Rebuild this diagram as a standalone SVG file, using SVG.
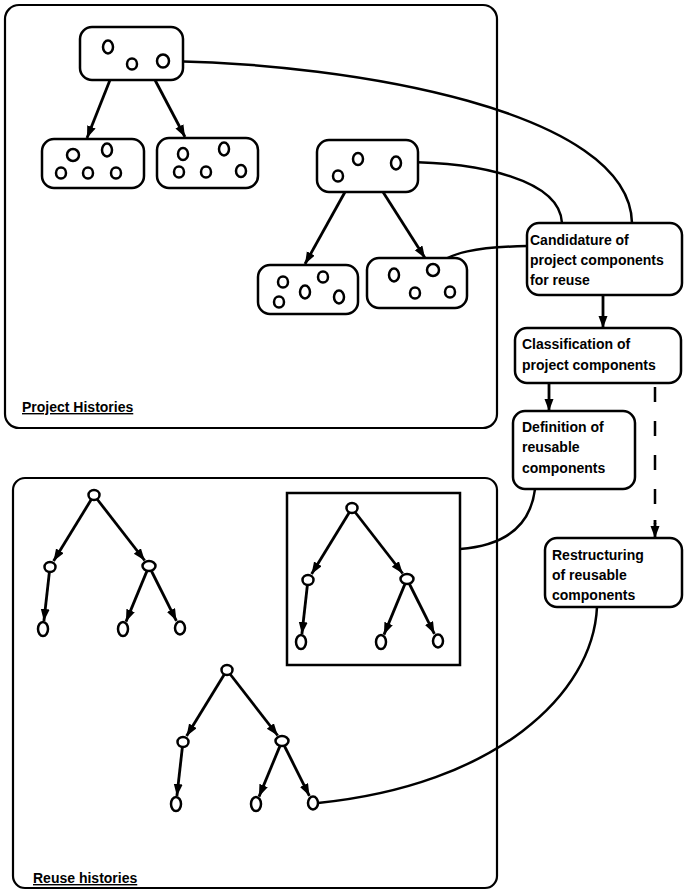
<svg xmlns="http://www.w3.org/2000/svg" xmlns:xlink="http://www.w3.org/1999/xlink" width="684" height="892" viewBox="0 0 684 892">
<style>
.frame{fill:none;stroke:#000;stroke-width:2.2}
.box{fill:#fff;stroke:#000;stroke-width:2.5}
.pt{fill:#fff;stroke:#000;stroke-width:2.5}
.edge{fill:none;stroke:#000;stroke-width:2.8;marker-end:url(#ah)}
.conn{fill:none;stroke:#000;stroke-width:2.5}
.dash{fill:none;stroke:#000;stroke-width:2.5;stroke-dasharray:15 19;}
.lbl{font-family:"Liberation Sans",Arial,sans-serif;font-weight:bold;font-size:14px;fill:#000}
.ttl{font-family:"Liberation Sans",Arial,sans-serif;font-weight:bold;font-size:14px;fill:#000;text-decoration:underline}
</style>
<defs>
<marker id="ah" markerUnits="userSpaceOnUse" markerWidth="14" markerHeight="10" refX="12" refY="4.5" orient="auto">
<path d="M0,0 L12,4.5 L0,9 z" fill="#000"/>
</marker>
<g id="tree">
<line class="edge" x1="-2.6" y1="4.3" x2="-40.4" y2="66"/>
<line class="edge" x1="3" y1="4" x2="50.7" y2="65.5"/>
<line class="edge" x1="-44.6" y1="77" x2="-50.1" y2="126"/>
<line class="edge" x1="53.1" y1="75.6" x2="32" y2="126.6"/>
<line class="edge" x1="57.2" y1="75.5" x2="82.4" y2="125.8"/>
<ellipse class="pt" cx="0" cy="0" rx="5.5" ry="5"/>
<ellipse class="pt" cx="-44" cy="72" rx="5.5" ry="5"/>
<ellipse class="pt" cx="55" cy="71" rx="6.5" ry="5"/>
<ellipse class="pt" cx="-51" cy="134" rx="5" ry="7"/>
<ellipse class="pt" cx="29" cy="134" rx="5" ry="7"/>
<ellipse class="pt" cx="86" cy="133" rx="5" ry="6.5"/>
</g>
</defs>
<rect width="684" height="892" fill="#fff"/>

<g id="project-histories">
<rect class="frame" x="5" y="5" width="492" height="423" rx="14"/>
<text class="ttl" x="22" y="412">Project Histories</text>
</g>
<g id="reuse-histories">
<rect class="frame" x="13" y="478" width="484" height="410" rx="12"/>
<text class="ttl" x="33" y="883">Reuse histories</text>
</g>

<g id="connectors">
<path class="conn" d="M169,61 C350,64 630,110 632,223"/>
<path class="conn" d="M402,162 C480,162 560,180 562,223"/>
<path class="conn" d="M437,268 C445,252 480,247 527,246"/>
<path class="conn" d="M535,489 C530,530 500,546 460,549"/>
<path class="conn" d="M597,607 C593,695 495,785 318,803"/>
<line class="edge" x1="110" y1="80" x2="87" y2="138"/>
<line class="edge" x1="155" y1="80" x2="185" y2="137"/>
<line class="edge" x1="345" y1="192" x2="305" y2="264"/>
<line class="edge" x1="383" y1="192" x2="425" y2="258"/>
<line class="edge" x1="603" y1="295" x2="603" y2="328"/>
<line class="edge" x1="549" y1="383" x2="549" y2="411"/>
<line class="dash" x1="655" y1="387" x2="655" y2="524"/>
<line class="edge" x1="655" y1="520" x2="655" y2="538"/>
</g>

<g id="node-top">
<rect class="box" x="80" y="27" width="103" height="53" rx="12"/>
<ellipse class="pt" cx="108" cy="47" rx="5" ry="6.5"/>
<ellipse class="pt" cx="132" cy="64" rx="5" ry="5.5"/>
<ellipse class="pt" cx="163" cy="61" rx="6" ry="6.5"/>
</g>
<g id="node-left">
<rect class="box" x="42" y="139" width="102" height="49" rx="12"/>
<ellipse class="pt" cx="73" cy="155" rx="6" ry="6"/>
<ellipse class="pt" cx="107" cy="150" rx="5" ry="6.5"/>
<ellipse class="pt" cx="61" cy="173" rx="5" ry="5.5"/>
<ellipse class="pt" cx="88" cy="173" rx="5" ry="5.5"/>
<ellipse class="pt" cx="116" cy="173" rx="5" ry="5.5"/>
</g>
<g id="node-mid">
<rect class="box" x="157" y="138" width="101" height="50" rx="12"/>
<ellipse class="pt" cx="183" cy="154" rx="5" ry="6"/>
<ellipse class="pt" cx="224" cy="149" rx="5" ry="6.5"/>
<ellipse class="pt" cx="179" cy="172" rx="5" ry="5.5"/>
<ellipse class="pt" cx="206" cy="172" rx="5" ry="5.5"/>
<ellipse class="pt" cx="241" cy="171" rx="5" ry="6"/>
</g>
<g id="node-second">
<rect class="box" x="317" y="140" width="101" height="52" rx="12"/>
<ellipse class="pt" cx="358" cy="159" rx="5" ry="6"/>
<ellipse class="pt" cx="396" cy="163" rx="5" ry="6.5"/>
<ellipse class="pt" cx="338" cy="176" rx="5" ry="5.5"/>
</g>
<g id="node-second-left">
<rect class="box" x="258" y="265" width="100" height="49" rx="12"/>
<ellipse class="pt" cx="283" cy="282" rx="5" ry="5.5"/>
<ellipse class="pt" cx="305" cy="292" rx="5" ry="6.5"/>
<ellipse class="pt" cx="323" cy="277" rx="5" ry="5.5"/>
<ellipse class="pt" cx="279" cy="302" rx="5" ry="5.5"/>
<ellipse class="pt" cx="339" cy="297" rx="5" ry="6.5"/>
</g>
<g id="node-second-right">
<rect class="box" x="367" y="258" width="100" height="50" rx="12"/>
<ellipse class="pt" cx="394" cy="275" rx="5" ry="6.5"/>
<ellipse class="pt" cx="433" cy="270" rx="6" ry="6"/>
<ellipse class="pt" cx="415" cy="293" rx="5" ry="5.5"/>
<ellipse class="pt" cx="450" cy="292" rx="5" ry="5.5"/>
</g>

<g id="node-candidature">
<rect class="box" x="527" y="223" width="155" height="72" rx="12"/>
<text class="lbl" x="530" y="245">Candidature of</text>
<text class="lbl" x="530" y="265">project components</text>
<text class="lbl" x="530" y="285">for reuse</text>
</g>
<g id="node-classification">
<rect class="box" x="515" y="328" width="166" height="55" rx="12"/>
<text class="lbl" x="522" y="349">Classification of</text>
<text class="lbl" x="522" y="370">project components</text>
</g>
<g id="node-definition">
<rect class="box" x="513" y="411" width="122" height="78" rx="12"/>
<text class="lbl" x="522" y="432">Definition of</text>
<text class="lbl" x="522" y="452">reusable</text>
<text class="lbl" x="522" y="473">components</text>
</g>
<g id="node-restructuring">
<rect class="box" x="545" y="538" width="137" height="69" rx="12"/>
<text class="lbl" x="552" y="560">Restructuring</text>
<text class="lbl" x="552" y="580">of reusable</text>
<text class="lbl" x="552" y="600">components</text>
</g>

<g id="tree-1"><use xlink:href="#tree" transform="translate(94,495)"/></g>
<g id="tree-2">
<rect x="287" y="493" width="173" height="172" fill="none" stroke="#000" stroke-width="2.5"/>
<use xlink:href="#tree" transform="translate(352,508)"/>
</g>
<g id="tree-3"><use xlink:href="#tree" transform="translate(227,670)"/></g>
</svg>
